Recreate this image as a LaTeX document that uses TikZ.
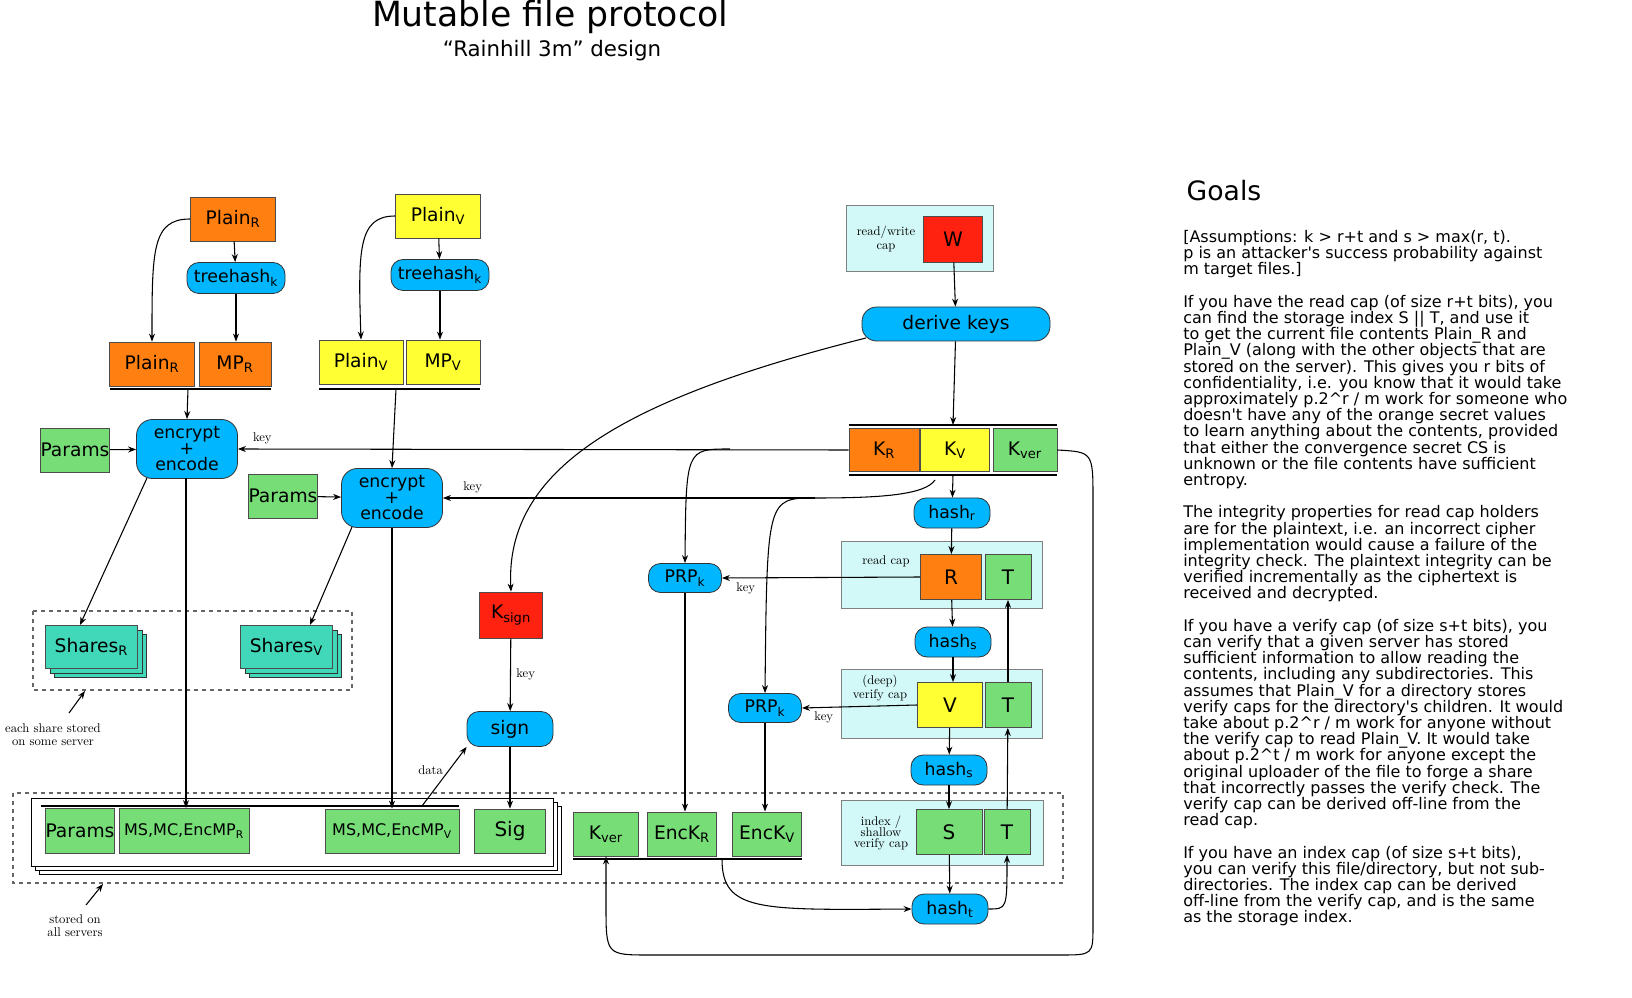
\documentclass[tikz,border=0pt]{standalone}
\usepackage{fontspec}
\newfontfamily\dv{DejaVu Sans}
\usetikzlibrary{arrows.meta,shadows}
\definecolor{cor}{HTML}{FF8010}
\definecolor{cye}{HTML}{FFFF33}
\definecolor{cgr}{HTML}{77DD77}
\definecolor{cbl}{HTML}{00B6FF}
\definecolor{ccy}{HTML}{D2F8F8}
\definecolor{cte}{HTML}{40D8B8}
\definecolor{cre}{HTML}{FF2210}
\tikzset{
 sz/.style 2 args={minimum width=#1*0.75pt, minimum height=#2*0.75pt},
 bx/.style={draw=black!70, line width=0.6pt, inner sep=0pt, font=\dv\fontsize{14}{16}\selectfont},
 pill/.style={draw=black!80, fill=cbl, rounded corners=9pt, line width=0.6pt, inner sep=0pt, font=\dv\fontsize{13}{14}\selectfont},
 lbl/.style={font=\fontsize{9.5}{10}\selectfont, align=center, inner sep=1pt},
 ar/.style={-{Stealth[length=6pt,width=4.5pt]}, line width=0.8pt},
 ln/.style={line width=0.8pt},
 capbox/.style={draw=black!50, fill=ccy, line width=0.5pt},
 dsh/.style={draw=black!60, dashed, line width=0.8pt},
 shares/.style={bx, fill=cte, double copy shadow={shadow xshift=3.5pt, shadow yshift=-3.5pt, draw=black!80, fill=cte}},
}
\begin{document}
\begin{tikzpicture}[x=0.75pt,y=-0.75pt]
\useasboundingbox[fill=white] (0,0) rectangle (1632,998);
% title
\node[font=\dv\fontsize{26}{28}\selectfont] (title) at (550,17) {Mutable file protocol};
\node[font=\dv\fontsize{16}{18}\selectfont] (subtitle) at (552,51) {“Rainhill 3m” design};

% background boxes
\draw[dsh] (33,611) rectangle (352,690);
\draw[dsh] (13,793) rectangle (1063,883);
\foreach \o in {8,4} \draw[draw=black, fill=white, line width=0.6pt] (31+\o,798+\o) rectangle (553+\o,866+\o);
\draw[draw=black, fill=white, line width=0.6pt] (31,798) rectangle (553,866);
\draw[capbox] (846,205) rectangle (993,271);
\draw[capbox] (841,541) rectangle (1042,608);
\draw[capbox] (841,669) rectangle (1042,738);
\draw[capbox] (841,800) rectangle (1043,865);

% plaintext R side
\node[bx, fill=cor, sz={85}{44}] (plainRt) at (233,219) {Plain\textsubscript{R}};
\node[pill, sz={98}{31}] (thR) at (236,278) {treehash\textsubscript{k}};
\node[bx, fill=cor, sz={85}{44}] (plainR) at (152,364) {Plain\textsubscript{R}};
\node[bx, fill=cor, sz={72}{44}] (mpR) at (235,364) {MP\textsubscript{R}};
\draw[line width=1.6pt] (110,389) -- (271,389);
\coordinate (ulR) at (188,389);
% plaintext V side
\node[bx, fill=cye, sz={85}{44}] (plainVt) at (438,216) {Plain\textsubscript{V}};
\node[pill, sz={98}{31}] (thV) at (440,275) {treehash\textsubscript{k}};
\node[bx, fill=cye, sz={84}{44}] (plainV) at (361,362) {Plain\textsubscript{V}};
\node[bx, fill=cye, sz={74}{44}] (mpV) at (443,362) {MP\textsubscript{V}};
\draw[line width=1.6pt] (319,389) -- (480,389);
\coordinate (ulV) at (396,389);

% encrypt
\node[bx, fill=cgr, sz={65}{44}] (parR) at (75,450) {Params};
\node[pill, sz={101}{59}, rounded corners=12pt, align=center, font=\dv\fontsize{13}{12}\selectfont] (encR) at (187,449) {encrypt\\+\\encode};
\node[bx, fill=cgr, sz={65}{44}] (parV) at (283,496) {Params};
\node[pill, sz={101}{59}, rounded corners=12pt, align=center, font=\dv\fontsize{13}{12}\selectfont] (encV) at (392,498) {encrypt\\+\\encode};

% shares
\node[shares, sz={92}{43}, anchor=north west] (shR) at (45,625) {Shares\textsubscript{R}};
\node[shares, sz={92}{43}, anchor=north west] (shV) at (240,625) {Shares\textsubscript{V}};
\node[lbl] (note1) at (53,735) {each share stored\\on some server};
\coordinate (n1a) at (85,691);
\coordinate (n1b) at (69,713);
\draw[ar] (n1b) -- (n1a);
\node[lbl] (note2) at (75,926) {stored on\\all servers};
\coordinate (n2a) at (103,884);
\coordinate (n2b) at (86,905);
\draw[ar] (n2b) -- (n2a);

% sign
\node[bx, fill=cre, sz={63}{46}] (ksign) at (511,615) {K\textsubscript{sign}};
\node[pill, sz={86}{35}, font=\dv\fontsize{14}{16}\selectfont] (sign) at (510,729) {sign};

% stored items
\node[bx, fill=cgr, sz={65}{45}] (parS) at (80,831) {Params};
\node[bx, fill=cgr, sz={130}{45}, font=\dv\fontsize{12}{14}\selectfont] (mscR) at (184,831) {MS,MC,EncMP\textsubscript{R}};
\node[bx, fill=cgr, sz={134}{44}, font=\dv\fontsize{12}{14}\selectfont] (mscV) at (392,831) {MS,MC,EncMP\textsubscript{V}};
\node[bx, fill=cgr, sz={71}{44}, font=\dv\fontsize{15}{16}\selectfont] (sig) at (510,831) {Sig};
\draw[ln] (41,806) -- (459,806);
\coordinate (dataS) at (422,806);
\node[bx, fill=cgr, sz={65}{44}] (kverS) at (606,834) {K\textsubscript{ver}};
\node[bx, fill=cgr, sz={69}{44}] (enckR) at (682,834) {EncK\textsubscript{R}};
\node[bx, fill=cgr, sz={69}{44}] (enckV) at (767,834) {EncK\textsubscript{V}};
\draw[ln] (573,859) -- (802,859);
\coordinate (encul) at (722,859);

% keys
\node[lbl] (rwl) at (886,239) {read/write\\cap};
\node[bx, fill=cre, sz={59}{46}, font=\dv\fontsize{15}{16}\selectfont] (W) at (953,239) {W};
\node[pill, sz={188}{34}, rounded corners=11pt, font=\dv\fontsize{14}{16}\selectfont] (derive) at (956,324) {derive keys};
\node[bx, fill=cor, sz={70}{43}] (kR) at (884,450) {K\textsubscript{R}};
\node[bx, fill=cye, sz={69}{43}] (kV) at (955,450) {K\textsubscript{V}};
\node[bx, fill=cgr, sz={64}{43}] (kver) at (1025,450) {K\textsubscript{ver}};
\draw[line width=1.4pt] (849,425) -- (1057,425);
\draw[line width=1.4pt] (849,475) -- (1057,475);
\coordinate (kVtop) at (953,425);
\coordinate (kVbot) at (953,475);

\node[pill, sz={76}{30}] (hr) at (952,513) {hash\textsubscript{r}};
\node[lbl, anchor=north] (rcl) at (886,554) {read cap};
\node[bx, fill=cor, sz={61}{45}, font=\dv\fontsize{15}{16}\selectfont] (R) at (951,577) {R};
\node[bx, fill=cgr, sz={46}{45}, font=\dv\fontsize{15}{16}\selectfont] (T1) at (1008,577) {T};
\node[pill, sz={76}{30}] (hs1) at (953,642) {hash\textsubscript{s}};
\node[lbl] (vcl) at (880,688) {(deep)\\verify cap};
\node[bx, fill=cye, sz={65}{45}, font=\dv\fontsize{15}{16}\selectfont] (V) at (950,705) {V};
\node[bx, fill=cgr, sz={46}{45}, font=\dv\fontsize{15}{16}\selectfont] (T2) at (1008,705) {T};
\node[pill, sz={76}{30}] (hs2) at (949,770) {hash\textsubscript{s}};
\node[lbl] (icl) at (881,833) {index /\\[-2pt]shallow\\[-2pt]verify cap};
\node[bx, fill=cgr, sz={66}{45}, font=\dv\fontsize{15}{16}\selectfont] (S) at (949,832) {S};
\node[bx, fill=cgr, sz={46}{45}, font=\dv\fontsize{15}{16}\selectfont] (T3) at (1007,832) {T};
\node[pill, sz={76}{30}] (ht) at (950,909) {hash\textsubscript{t}};

\node[pill, sz={73}{29}] (prp1) at (685,578) {PRP\textsubscript{k}};
\node[pill, sz={73}{29}] (prp2) at (765,708) {PRP\textsubscript{k}};

% edges plaintext
\draw[ar] (plainRt.west) .. controls (152,219) and (152,250) .. (plainR.north);
\draw[ar] (plainRt) -- (thR);
\draw[ar] (thR) -- (mpR.north -| thR);
\draw[ar] (plainVt.west) .. controls (358,216) and (358,250) .. (plainV.north);
\draw[ar] (plainVt) -- (thV);
\draw[ar] (thV) -- (mpV.north -| thV);
\draw[ar] (ulR) -- (encR.north);
\draw[ar] (ulV) -- (encV.north);
\draw[ar] (parR) -- (encR);
\draw[ar] (parV) -- (encV);
\coordinate (eR1) at (147,478);
\coordinate (sR1) at (80,625);
\coordinate (eV1) at (352,527);
\coordinate (sV1) at (310,625);
\draw[ar] (eR1) -- (sR1);
\draw[ar] (eV1) -- (sV1);
\coordinate (eR2) at (186,478);
\draw[ar] (eR2) -- (eR2 |- mscR.north);
\draw[ar] (encV) -- (mscV.north);

% key edges
\coordinate (krbr) at (730,449);
\draw[ar] (kR.west) -- node[lbl, pos=0.96, above=2pt] {key} (encR.east);
\draw[ar] (krbr) .. controls (686,449) .. (prp1.north);
\coordinate (kvs) at (935,480);
\coordinate (kvj) at (815,498);
\draw[ln] (kvs) .. controls (925,495) and (880,498) .. (kvj);
\draw[ar] (kvj) -- node[lbl, pos=0.92, above=2pt] {key} (encV.east);
\draw[ar] (kvj) .. controls (767,498) .. (prp2.north);
\draw[ar] (W) -- (derive);
\draw[ar] (derive) -- (kVtop);
\coordinate (dk) at (866,338);
\draw[ar] (dk) .. controls (620,400) and (505,470) .. (ksign.north);
\draw[ar] (ksign) -- node[lbl, right=3pt] {key} (sign);
\draw[ar] (sign) -- (sig.north);
\draw[ar] (dataS) -- node[lbl, left=3pt, pos=0.6] {data} (sign.south west);

% cap chain
\draw[ar] (kVbot) -- (hr);
\draw[ar] (hr) -- (R);
\draw[ar] (R) -- (hs1);
\draw[ar] (hs1) -- (hs1 |- V.north);
\draw[ar] (V) -- (hs2);
\draw[ar] (hs2) -- (S);
\draw[ar] (S) -- (ht);
\draw[ar] (ht.east) .. controls (1007,909) .. (T3.south);
\draw[ar] (T3) -- (T2);
\draw[ar] (T2) -- (T1);
\draw[ar] (R.west) -- node[lbl, pos=0.92, below=2pt, xshift=6pt] {key} (prp1.east);
\draw[ar] (V.west) -- node[lbl, pos=0.88, below=2pt, xshift=6pt] {key} (prp2.east);
\draw[ar] (prp1) -- (enckR.north -| prp1);
\draw[ar] (prp2) -- (enckV.north -| prp2);
\draw[ar] (encul) .. controls (722,912) and (760,910) .. (ht.west);
\draw[ar] (kver.east) .. controls (1093,452) .. (1093,500) -- (1093,925) .. controls (1093,955) .. (1060,955) -- (650,955) .. controls (606,955) .. (606,905) -- (kverS.south);

% goals
\node[anchor=west, font=\dv\fontsize{20}{22}\selectfont] (goals) at (1182,191) {Goals};
\node[anchor=north west, align=left, inner sep=0pt, font=\dv\fontsize{12}{12.15}\selectfont] (gtext) at (1183,230) {%
[Assumptions: k > r+t and s > max(r, t).\\
p is an attacker's success probability against\\
m target files.]\\[12.15pt]
If you have the read cap (of size r+t bits), you\\
can find the storage index S || T, and use it\\
to get the current file contents Plain\_R and\\
Plain\_V (along with the other objects that are\\
stored on the server). This gives you r bits of\\
confidentiality, i.e. you know that it would take\\
approximately p.2\textasciicircum r / m work for someone who\\
doesn't have any of the orange secret values\\
to learn anything about the contents, provided\\
that either the convergence secret CS is\\
unknown or the file contents have sufficient\\
entropy.\\[12.15pt]
The integrity properties for read cap holders\\
are for the plaintext, i.e. an incorrect cipher\\
implementation would cause a failure of the\\
integrity check. The plaintext integrity can be\\
verified incrementally as the ciphertext is\\
received and decrypted.\\[12.15pt]
If you have a verify cap (of size s+t bits), you\\
can verify that a given server has stored\\
sufficient information to allow reading the\\
contents, including any subdirectories. This\\
assumes that Plain\_V for a directory stores\\
verify caps for the directory's children. It would\\
take about p.2\textasciicircum r / m work for anyone without\\
the verify cap to read Plain\_V. It would take\\
about p.2\textasciicircum t / m work for anyone except the\\
original uploader of the file to forge a share\\
that incorrectly passes the verify check. The\\
verify cap can be derived off-line from the\\
read cap.\\[12.15pt]
If you have an index cap (of size s+t bits),\\
you can verify this file/directory, but not sub-\\
directories. The index cap can be derived\\
off-line from the verify cap, and is the same\\
as the storage index.};
\end{tikzpicture}
\end{document}
